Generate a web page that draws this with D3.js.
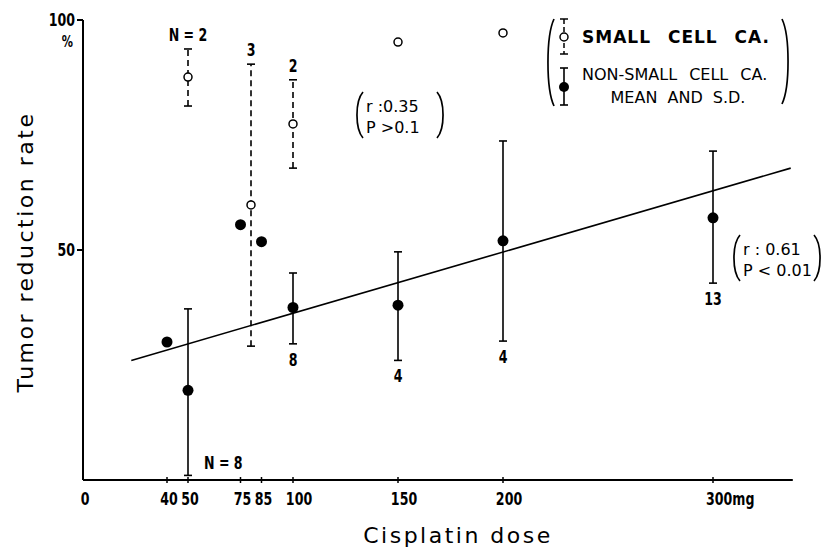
<!DOCTYPE html>
<html>
<head>
<meta charset="utf-8">
<script src="https://cdn.jsdelivr.net/npm/d3@7"></script>
<style>
  body { margin: 0; background: #fff; }
  svg { display: block; }
  .tick-label { font-family: "DejaVu Sans", sans-serif; font-weight: bold; font-size: 18px; }
  .title { font-family: "DejaVu Sans", sans-serif; font-size: 22px; letter-spacing: 2.5px; }
  .legend { font-family: "DejaVu Sans", sans-serif; font-size: 15px; }
</style>
</head>
<body>
<div id="container"></div>
<script>
/* CONSTANTS AND GLOBALS */
const width = 829;
const height = 559;
const squeeze = 0.7;   // narrow lettering of the original

/* DATA */
// x axis ticks (mg)
const doseTicks = [0, 40, 50, 75, 85, 100, 150, 200, 300];
const doseTickLabels = ["0", "40", "50", "75", "85", "100", "150", "200", "300mg"];
const rateTicks = [50, 100];

// non-small cell ca. : mean and s.d.
const nonSmallDose = [40, 50, 75, 85, 100, 150, 200, 300];
const nonSmallMean = [30, 19.5, 55.5, 51.8, 37.5, 38, 52, 57];
const nonSmallLow = [null, 1, null, null, 29.6, 26, 30.2, 42.8];
const nonSmallHigh = [null, 37.2, null, null, 45, 49.6, 73.7, 71.5];
const nonSmallN = ["", "N = 8", "", "", "8", "4", "4", "13"];

// small cell ca.
const smallDose = [50, 80, 100, 150, 200];
const smallMean = [87.6, 59.8, 77.4, 95.2, 97.2];
const smallLow = [81.3, 29.1, 67.8, null, null];
const smallHigh = [93.7, 90.4, 87, null, null];
const smallN = ["N = 2", "3", "2", "", ""];

// regression line (non-small cell)
const fitDose = [23, 337];
const fitRate = [26, 67.8];

const nonSmall = nonSmallDose.map((d, i) => ({dose: d, mean: nonSmallMean[i], low: nonSmallLow[i], high: nonSmallHigh[i], n: nonSmallN[i]}));
const small = smallDose.map((d, i) => ({dose: d, mean: smallMean[i], low: smallLow[i], high: smallHigh[i], n: smallN[i]}));

const svg = d3.select("#container")
  .append("svg")
  .attr("width", width)
  .attr("height", height);

/* SCALES */
const xScale = d3.scaleLinear()
  .domain([0, 300])
  .range([83, 713]);

const yScale = d3.scaleLinear()
  .domain([0, 100])
  .range([480, 20]);

// narrow bold text placed at x,y
function cond(sel, xf, yf) {
  return sel.attr("class", "tick-label")
    .attr("transform", (d, i) => `translate(${xf(d, i)},${yf(d, i)}) scale(${squeeze},1)`);
}

/* AXES */
svg.append("line")
  .attr("x1", xScale(0)).attr("x2", xScale(338))
  .attr("y1", yScale(0)).attr("y2", yScale(0))
  .attr("stroke", "#000").attr("stroke-width", 2);

svg.append("line")
  .attr("x1", xScale(0)).attr("x2", xScale(0))
  .attr("y1", yScale(0)).attr("y2", yScale(100))
  .attr("stroke", "#000").attr("stroke-width", 2);

svg.selectAll(".xtick")
  .data(doseTicks.filter(d => d > 0))
  .join("line")
  .attr("class", "xtick")
  .attr("x1", d => xScale(d)).attr("x2", d => xScale(d))
  .attr("y1", yScale(0) - 3).attr("y2", yScale(0) + 3)
  .attr("stroke", "#000").attr("stroke-width", 1.5);

svg.selectAll(".xlabel")
  .data(doseTicks)
  .join("text")
  .call(cond, d => xScale(d) + (d >= 100 ? 6 : 2) - (d === 300 ? 13 : 0), () => yScale(0) + 25)
  .attr("text-anchor", (d, i) => doseTickLabels[i].endsWith("mg") ? "start" : "middle")
  .text((d, i) => doseTickLabels[i]);

svg.selectAll(".ytick")
  .data(rateTicks)
  .join("line")
  .attr("class", "ytick")
  .attr("x1", xScale(0) - 6).attr("x2", xScale(0))
  .attr("y1", d => yScale(d)).attr("y2", d => yScale(d))
  .attr("stroke", "#000").attr("stroke-width", 2);

svg.selectAll(".ylabel")
  .data(rateTicks)
  .join("text")
  .call(cond, () => xScale(0) - 8, d => yScale(d) + 6)
  .attr("text-anchor", "end")
  .text(d => d);

svg.append("text")
  .datum("%")
  .call(cond, () => xScale(0) - 10, () => yScale(100) + 27)
  .attr("text-anchor", "end")
  .style("font-size", "16px")
  .text("%");

svg.append("text")
  .attr("class", "title")
  .attr("x", 458).attr("y", 543)
  .attr("text-anchor", "middle")
  .text("Cisplatin dose");

svg.append("text")
  .attr("class", "title")
  .attr("transform", "translate(33,252) rotate(-90)")
  .attr("text-anchor", "middle")
  .text("Tumor reduction rate");

/* REGRESSION LINE */
svg.append("line")
  .attr("x1", xScale(fitDose[0])).attr("y1", yScale(fitRate[0]))
  .attr("x2", xScale(fitDose[1])).attr("y2", yScale(fitRate[1]))
  .attr("stroke", "#000").attr("stroke-width", 1.6);

/* ERROR BARS */
function errorBars(data, cls, dashed) {
  const g = svg.append("g").attr("class", cls);
  const withSd = data.filter(d => d.low != null);
  g.selectAll(".bar")
    .data(withSd)
    .join("line")
    .attr("class", "bar")
    .attr("x1", d => xScale(d.dose)).attr("x2", d => xScale(d.dose))
    .attr("y1", d => yScale(d.low)).attr("y2", d => yScale(d.high))
    .attr("stroke", "#000").attr("stroke-width", 1.6)
    .attr("stroke-dasharray", dashed ? "6,4" : null);
  g.selectAll(".cap")
    .data(withSd.flatMap(d => [{dose: d.dose, v: d.low}, {dose: d.dose, v: d.high}]))
    .join("line")
    .attr("class", "cap")
    .attr("x1", d => xScale(d.dose) - 4).attr("x2", d => xScale(d.dose) + 4)
    .attr("y1", d => yScale(d.v)).attr("y2", d => yScale(d.v))
    .attr("stroke", "#000").attr("stroke-width", 1.6);
}
errorBars(small, "small-sd", true);
errorBars(nonSmall, "nonsmall-sd", false);

/* POINTS */
svg.selectAll(".small-pt")
  .data(small)
  .join("circle")
  .attr("class", "small-pt")
  .attr("cx", d => xScale(d.dose))
  .attr("cy", d => yScale(d.mean))
  .attr("r", 4)
  .attr("fill", "#fff").attr("stroke", "#000").attr("stroke-width", 1.5);

svg.selectAll(".nonsmall-pt")
  .data(nonSmall)
  .join("circle")
  .attr("class", "nonsmall-pt")
  .attr("cx", d => xScale(d.dose))
  .attr("cy", d => yScale(d.mean))
  .attr("r", 5.5)
  .attr("fill", "#000");

/* N LABELS */
svg.selectAll(".small-n")
  .data(small.filter(d => d.n))
  .join("text")
  .call(cond, d => xScale(d.dose), d => yScale(d.high) - 8)
  .attr("text-anchor", "middle")
  .text(d => d.n);

svg.selectAll(".nonsmall-n")
  .data(nonSmall.filter(d => d.n))
  .join("text")
  .call(cond, d => d.low < 10 ? xScale(d.dose) + 16 : xScale(d.dose),
              d => d.low < 10 ? yScale(d.low) - 6 : yScale(d.low) + 22)
  .attr("text-anchor", d => d.low < 10 ? "start" : "middle")
  .text(d => d.n);

/* BRACKETS */
function bracket(x, y0, y1, dir) {
  const d = 7 * dir;
  const h = y1 - y0;
  svg.append("path")
    .attr("d", `M${x + d},${y0} C${x - d * 0.15},${y0 + h * 0.2} ${x - d * 0.15},${y1 - h * 0.2} ${x + d},${y1}`)
    .attr("fill", "none").attr("stroke", "#000").attr("stroke-width", 1.7);
}

// correlation notes
const notes = [
  {x0: 356, x1: 444, y: 107, lines: ["r :0.35", "P >0.1"]},
  {x0: 733, x1: 821, y: 250, lines: ["r : 0.61", "P < 0.01"]}
];
notes.forEach(n => {
  bracket(n.x0, n.y - 15, n.y + 31, 1);
  bracket(n.x1, n.y - 15, n.y + 31, -1);
  n.lines.forEach((t, i) => {
    svg.append("text")
      .attr("class", "legend")
      .attr("x", n.x0 + 10)
      .attr("y", n.y + 5 + i * 21)
      .style("font-size", "16px")
      .text(t);
  });
});

/* LEGEND */
bracket(547, 19, 106, 1);
bracket(789, 19, 104, -1);

const lx = 564;
svg.append("line").attr("x1", lx).attr("x2", lx).attr("y1", 19).attr("y2", 54)
  .attr("stroke", "#000").attr("stroke-width", 1.5).attr("stroke-dasharray", "5,3");
[19, 54].forEach(y => svg.append("line").attr("x1", lx - 4).attr("x2", lx + 4).attr("y1", y).attr("y2", y)
  .attr("stroke", "#000").attr("stroke-width", 1.5));
svg.append("circle").attr("cx", lx).attr("cy", 37).attr("r", 4)
  .attr("fill", "#fff").attr("stroke", "#000").attr("stroke-width", 1.5);

svg.append("line").attr("x1", lx).attr("x2", lx).attr("y1", 68).attr("y2", 105)
  .attr("stroke", "#000").attr("stroke-width", 1.6);
[68, 105].forEach(y => svg.append("line").attr("x1", lx - 4).attr("x2", lx + 4).attr("y1", y).attr("y2", y)
  .attr("stroke", "#000").attr("stroke-width", 1.6));
svg.append("circle").attr("cx", lx).attr("cy", 87).attr("r", 5).attr("fill", "#000");

svg.append("text").attr("class", "legend")
  .attr("x", 582).attr("y", 43)
  .style("font-size", "17px").style("font-weight", "bold")
  .style("letter-spacing", "1px").style("word-spacing", "10px")
  .text("SMALL CELL CA.");
svg.append("text").attr("class", "legend")
  .attr("x", 582).attr("y", 80)
  .style("font-size", "16px").style("word-spacing", "7px")
  .text("NON-SMALL CELL CA.");
svg.append("text").attr("class", "legend")
  .attr("x", 678).attr("y", 103)
  .attr("text-anchor", "middle")
  .style("font-size", "16px").style("word-spacing", "5px")
  .text("MEAN AND S.D.");
</script>
</body>
</html>
